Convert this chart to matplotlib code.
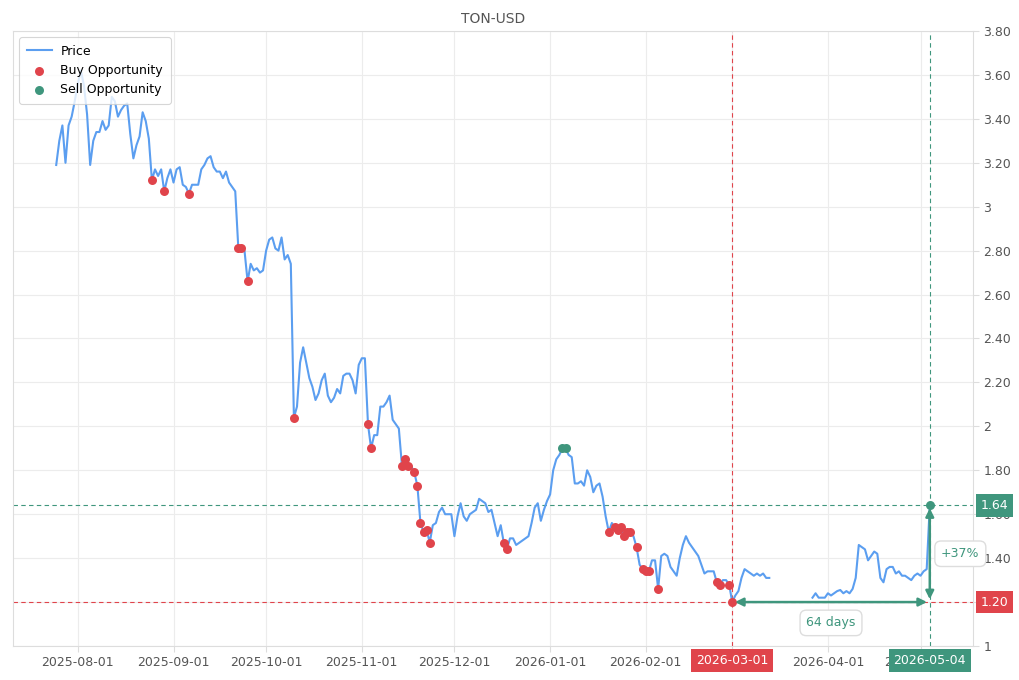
import matplotlib
matplotlib.use("Agg")
import matplotlib.pyplot as plt
import matplotlib.dates as mdates
import matplotlib.transforms as mtransforms
from matplotlib.ticker import FuncFormatter, MultipleLocator
import numpy as np
import pandas as pd

# chart data
ticker = "TON-USD"
start_date = "2025-07-25"
nan = np.nan
prices = [
    3.19, 3.30, 3.37, 3.20, 3.37, 3.41, 3.48,
    3.56, 3.62, 3.55, 3.42, 3.19, 3.30, 3.34, 3.34, 3.39, 3.35,
    3.37, 3.50, 3.48, 3.41, 3.44, 3.46, 3.47, 3.33, 3.22, 3.28,
    3.32, 3.43, 3.39, 3.31, 3.12, 3.17, 3.14, 3.17, 3.07, 3.13,
    3.17, 3.11, 3.17, 3.18, 3.10, 3.09, 3.06, 3.10, 3.10, 3.10,
    3.17, 3.19, 3.22, 3.23, 3.18, 3.16, 3.16, 3.13, 3.16, 3.11,
    3.09, 3.07, 2.81, 2.81, 2.80, 2.66, 2.74, 2.71, 2.72, 2.70,
    2.71, 2.80, 2.85, 2.86, 2.81, 2.80, 2.86, 2.76, 2.78, 2.74,
    2.04, 2.09, 2.29, 2.36, 2.29, 2.22, 2.18, 2.12, 2.15, 2.21,
    2.24, 2.14, 2.11, 2.13, 2.17, 2.15, 2.23, 2.24, 2.24, 2.21,
    2.15, 2.28, 2.31, 2.31, 2.01, 1.90, 1.96, 1.96, 2.09, 2.09,
    2.11, 2.14, 2.03, 2.01, 1.99, 1.82, 1.85, 1.82, 1.82, 1.79,
    1.73, 1.56, 1.52, 1.53, 1.47, 1.55, 1.56, 1.61, 1.63, 1.60,
    1.60, 1.60, 1.50, 1.59, 1.65, 1.59, 1.57, 1.60, 1.61, 1.62,
    1.67, 1.66, 1.65, 1.61, 1.62, 1.56, 1.50, 1.55, 1.47, 1.44,
    1.49, 1.49, 1.46, 1.47, 1.48, 1.49, 1.50, 1.56, 1.63, 1.65,
    1.57, 1.62, 1.66, 1.69, 1.80, 1.85, 1.87, 1.90, 1.90, 1.87,
    1.86, 1.74, 1.74, 1.75, 1.73, 1.80, 1.77, 1.70, 1.73, 1.74,
    1.68, 1.59, 1.52, 1.56, 1.54, 1.53, 1.54, 1.50, 1.52, 1.52,
    1.50, 1.45, 1.37, 1.35, 1.34, 1.34, 1.39, 1.39, 1.26, 1.41,
    1.42, 1.41, 1.36, 1.34, 1.32, 1.40, 1.46, 1.50, 1.47, 1.45,
    1.43, 1.41, 1.37, 1.33, 1.34, 1.34, 1.34, 1.29, 1.28, 1.30,
    1.30, 1.28, 1.20, 1.23, 1.25, 1.31, 1.35, 1.34, 1.33, 1.32,
    1.33, 1.32, 1.33, 1.31, 1.31,
    nan, nan, nan, nan, nan, nan, nan, nan, nan, nan, nan, nan, nan,
    1.22, 1.24, 1.22, 1.22, 1.22, 1.24, 1.23, 1.24, 1.25, 1.255,
    1.24, 1.25, 1.24, 1.26, 1.31, 1.46, 1.45, 1.44, 1.39, 1.41,
    1.43, 1.42, 1.31, 1.29, 1.35, 1.36, 1.36, 1.33, 1.34, 1.32,
    1.32, 1.31, 1.30, 1.32, 1.33, 1.32, 1.34, 1.35, 1.64,
]
buy_dates = [
    "2025-08-25", "2025-08-29", "2025-09-06", "2025-09-22", "2025-09-23",
    "2025-09-25", "2025-10-10", "2025-11-03", "2025-11-04", "2025-11-14",
    "2025-11-15", "2025-11-16", "2025-11-18", "2025-11-19", "2025-11-20",
    "2025-11-21", "2025-11-22", "2025-11-23", "2025-12-17", "2025-12-18",
    "2026-01-20", "2026-01-22", "2026-01-23", "2026-01-24", "2026-01-25",
    "2026-01-26", "2026-01-27", "2026-01-29", "2026-01-31", "2026-02-01",
    "2026-02-02", "2026-02-05", "2026-02-24", "2026-02-25", "2026-02-28",
    "2026-03-01",
]
sell_dates = ["2026-01-05", "2026-01-06", "2026-05-04"]
entry_date = "2026-03-01"
exit_date = "2026-05-04"

dates = pd.date_range(start_date, periods=len(prices), freq="D")
price = pd.Series(prices, index=dates)
buy_idx = pd.to_datetime(buy_dates)
sell_idx = pd.to_datetime(sell_dates)
entry = pd.Timestamp(entry_date)
exit_ = pd.Timestamp(exit_date)
entry_price = price[entry]
exit_price = price[exit_]
days_held = (exit_ - entry).days
gain = (exit_price / entry_price - 1) * 100
# numeric date positions for annotations
x_entry = mdates.date2num(entry)
x_exit = mdates.date2num(exit_)
x_mid = (x_entry + x_exit) / 2

blue = "#5b9ef0"
red = "#e0444b"
green = "#3f967d"
grey = "#555555"
light = "#dddddd"

fig = plt.figure(figsize=(10.2, 6.8), dpi=100)
ax = fig.add_axes([13 / 1020, 34 / 680, 960 / 1020, 615 / 680])

ax.plot(price.index, price.values, color=blue, lw=1.5, label="Price", zorder=2)
ax.scatter(buy_idx, price[buy_idx].values, s=42, color=red, zorder=3,
           linewidths=0, label="Buy Opportunity")
ax.scatter(sell_idx, price[sell_idx].values, s=42, color=green, zorder=3,
           linewidths=0, label="Sell Opportunity")

# entry / exit guide lines
dash = (0, (4, 3))
ax.axhline(exit_price, color=green, ls=dash, lw=0.8, zorder=1)
ax.axhline(entry_price, color=red, ls=dash, lw=0.8, zorder=1)
ax.axvline(entry, color=red, ls=dash, lw=0.8, zorder=1)
ax.axvline(exit_, color=green, ls=dash, lw=0.8, zorder=1)

arrow = dict(arrowstyle="<|-|>", color=green, lw=1.8, mutation_scale=12,
             shrinkA=2, shrinkB=2)
ax.annotate("", xy=(x_exit, entry_price), xytext=(x_entry, entry_price),
            arrowprops=arrow, zorder=4)
ax.annotate("", xy=(x_exit, exit_price), xytext=(x_exit, entry_price),
            arrowprops=arrow, zorder=4)

note_box = dict(boxstyle="round,pad=0.5", fc="white", ec=light, lw=1)
ax.annotate(f"{days_held} days", xy=(x_mid, entry_price), xytext=(0, -15),
            textcoords="offset points", ha="center", va="center",
            color=green, fontsize=9, bbox=note_box, zorder=5)
ax.annotate(f"+{gain:.0f}%", xy=(x_exit, (entry_price + exit_price) / 2),
            xytext=(22, 0), textcoords="offset points", ha="center",
            va="center", color=green, fontsize=9, bbox=note_box, zorder=5,
            annotation_clip=False)

# value tags on the right axis and date tags under the x axis
ytrans = mtransforms.blended_transform_factory(ax.transAxes, ax.transData)
for val, col in [(exit_price, green), (entry_price, red)]:
    ax.annotate(f"{val:.2f}", xy=(1, val), xycoords=ytrans, xytext=(5.5, 0),
                textcoords="offset points", ha="left", va="center",
                color="white", fontsize=9, annotation_clip=False, zorder=6,
                bbox=dict(boxstyle="square,pad=0.38", fc=col, ec="none"))
xtrans = mtransforms.blended_transform_factory(ax.transData, ax.transAxes)
for xd, d, col in [(x_entry, entry, red), (x_exit, exit_, green)]:
    ax.annotate(d.strftime("%Y-%m-%d"), xy=(xd, 0), xycoords=xtrans,
                xytext=(0, -10.5), textcoords="offset points", ha="center",
                va="center", color="white", fontsize=9, annotation_clip=False,
                zorder=6,
                bbox=dict(boxstyle="square,pad=0.38", fc=col, ec="none"))

ax.set_xlim(dates[0] - pd.Timedelta(days=14), dates[-1] + pd.Timedelta(days=14))
ax.set_ylim(1, 3.8)
ax.yaxis.tick_right()
ax.yaxis.set_major_locator(MultipleLocator(0.2))
ax.yaxis.set_major_formatter(FuncFormatter(
    lambda v, p: f"{v:.0f}" if abs(v - round(v)) < 1e-6 else f"{v:.2f}"))
ax.xaxis.set_major_locator(mdates.MonthLocator(bymonthday=1))
ax.xaxis.set_major_formatter(mdates.DateFormatter("%Y-%m-%d"))
ax.tick_params(axis="both", colors=light, labelcolor=grey, labelsize=9, length=4)
for s in ax.spines.values():
    s.set_color(light)
ax.grid(True, color="#ececec", lw=0.8)
ax.set_axisbelow(True)

ax.set_title(ticker, color=grey, fontsize=10, pad=6)
leg = ax.legend(loc="upper left", fontsize=9, frameon=True, fancybox=True,
                edgecolor="#cccccc", borderpad=0.6, handletextpad=0.7)
leg.get_frame().set_linewidth(0.8)

fig.savefig("out.png", dpi=100, facecolor="white")
